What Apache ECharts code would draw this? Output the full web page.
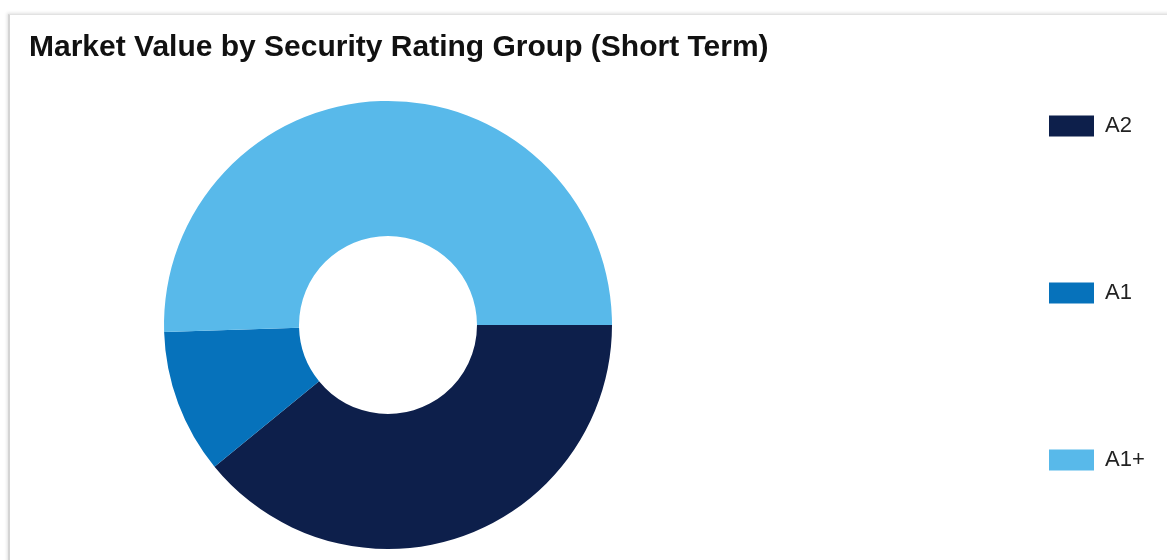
<!DOCTYPE html>
<html>
<head>
<meta charset="utf-8">
<script src="https://cdn.jsdelivr.net/npm/echarts@6/dist/echarts.min.js"></script>
<style>
  html, body { margin: 0; padding: 0; background: #fff; }
  #frame { position: absolute; left: 8px; top: 14px; width: 1170px; height: 560px;
    border-top: 1px solid #e2e2e2; border-left: 2px solid #d4d4d4;
    box-shadow: -1px -1px 3px rgba(0,0,0,0.12); }
  #chart { position: absolute; left: 0; top: 0; width: 1167px; height: 560px; }
</style>
</head>
<body>
<div id="frame"></div>
<div id="chart"></div>
<script>
// ratings, in drawing order (clockwise from 3 o'clock)
var ratings = ['A2', 'A1', 'A1+'];
var marketValue = [39.1, 10.4, 50.5];
var colors = ['#0d1f4b', '#0672bb', '#58b9ea'];

var myChart = echarts.init(document.getElementById('chart'));

var pieData = ratings.map(function (r, i) {
    return { name: r, value: marketValue[i], itemStyle: { color: colors[i] } };
});

var option = {
    animation: false,
    title: {
        text: 'Market Value by Security Rating Group (Short Term)',
        left: 29,
        top: 33,
        padding: 0,
        textStyle: {
            fontFamily: 'Liberation Sans, Arial, sans-serif',
            fontWeight: 'bold',
            fontSize: 30,
            color: '#111'
        }
    },
    legend: {
        orient: 'vertical',
        left: 1049,
        top: 115,
        padding: 0,
        itemWidth: 45,
        itemHeight: 21,
        itemGap: 145,
        icon: 'rect',
        data: ratings,
        textStyle: {
            fontFamily: 'Liberation Sans, Arial, sans-serif',
            fontSize: 22,
            color: '#222',
            padding: [0, 0, 0, 6]
        }
    },
    series: [{
        type: 'pie',
        center: [388, 325],
        radius: [89, 224],
        startAngle: 0,
        clockwise: true,
        label: { show: false },
        labelLine: { show: false },
        emphasis: { disabled: true },
        data: pieData
    }]
};

myChart.setOption(option);
</script>
</body>
</html>
